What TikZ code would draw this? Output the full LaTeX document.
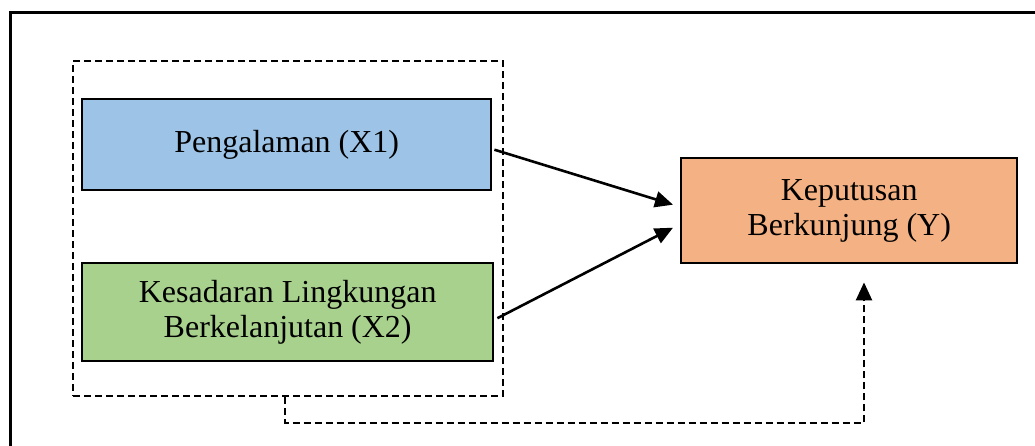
\documentclass[tikz,border=0pt]{standalone}
\usepackage{fontspec}
\setmainfont{Liberation Serif}
\usetikzlibrary{arrows.meta,calc}
\definecolor{boxblue}{HTML}{9DC3E6}
\definecolor{boxgreen}{HTML}{A9D18E}
\definecolor{boxorange}{HTML}{F4B183}
\tikzset{
  varbox/.style={draw=black, line width=2.4pt, anchor=north west, align=center,
    inner sep=0pt, font=\fontsize{32}{35}\selectfont},
  dashline/.style={line width=2.4pt, dash pattern=on 7pt off 4pt},
  arr/.style={line width=2.6pt, -{Triangle[length=18pt,width=16pt]}}
}
\begin{document}
\begin{tikzpicture}[x=1pt,y=-1pt]
\useasboundingbox (0,0) rectangle (1035,446);
\fill[white] (0,0) rectangle (1035,446);
% outer frame (cut at the image edges)
\draw[line width=3pt] (10,446) -- (10,13) -- (1035,13);
% dashed group box
\node[dashline, draw, anchor=north west, minimum width=430pt, minimum height=335pt, inner sep=0pt] (grp) at (72,60) {};
\node[varbox, fill=boxblue, minimum width=409pt, minimum height=91pt] (x1) at (81,98) {Pengalaman (X1)};
\node[varbox, fill=boxgreen, minimum width=411pt, minimum height=98pt] (x2) at (81,262) {Kesadaran Lingkungan\\Berkelanjutan (X2)};
\node[varbox, fill=boxorange, minimum width=336pt, minimum height=105pt] (y) at (680,157) {Keputusan\\Berkunjung (Y)};
% arrows
\draw[arr] ($(x1.east)+(2,5)$) -- ($(y.west)+(-7,-6)$);
\draw[arr] ($(x2.east)+(3,6)$) -- ($(y.west)+(-7,17)$);
% dashed connector
\coordinate (c) at (864,423);
\draw[dashline, -{Triangle[length=18pt,width=16pt]}] ($(grp.south)+(-3,0)$) |- (c) -- ($(c |- y.south)+(0,18)$);
\end{tikzpicture}
\end{document}
